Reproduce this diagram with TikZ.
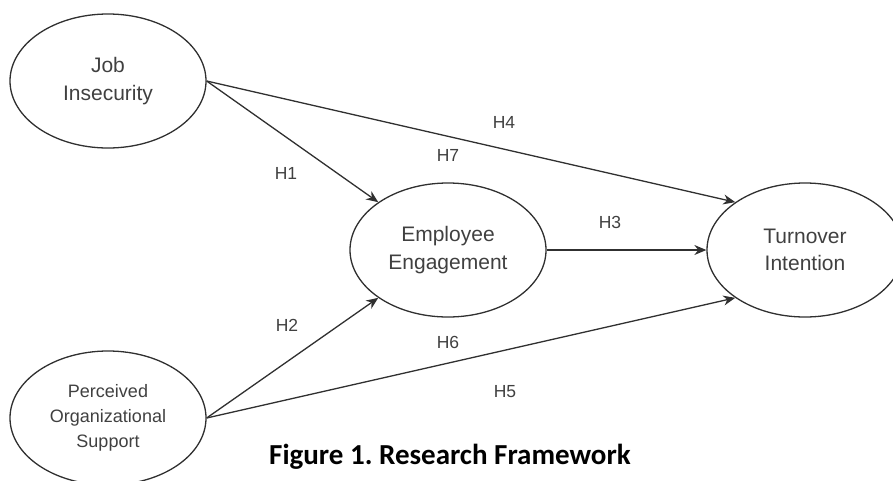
\documentclass[tikz,border=0pt]{standalone}
\usepackage{fontspec}
\setmainfont{Liberation Sans}
\newfontfamily\captionfont{Carlito}
\usepackage{xcolor}
\usetikzlibrary{shapes.geometric, arrows.meta}
\definecolor{linegray}{HTML}{303030}
\definecolor{textgray}{HTML}{404040}
\frenchspacing

\begin{document}
\begin{tikzpicture}[x=1pt, y=-1pt, >={Stealth[length=12pt,width=10pt]},
    latent/.style={draw=linegray, ellipse, line width=1.3pt, minimum width=196pt, minimum height=134pt,
      inner sep=0pt, align=center, text=textgray, font=\fontsize{21}{27.5}\selectfont},
    path/.style={->, draw=linegray, line width=1.3pt},
    hyp/.style={text=textgray, font=\fontsize{17.5}{20}\selectfont}]
    \useasboundingbox (0,0) rectangle (893,480);

    \node[latent] (JI) at (108,81) {Job\\Insecurity};
    \node[latent] (EE) at (448,250) {Employee\\Engagement};
    \node[latent] (TI) at (805,250) {Turnover\\Intention};
    \node[latent, font=\fontsize{18}{25}\selectfont] (POS) at (108,418) {Perceived\\Organizational\\Support};

    \draw[path] (JI.east) -- (EE.north west);
    \draw[path] (JI.east) -- (TI.north west);
    \draw[path] (EE.east) -- (TI.west);
    \draw[path] (POS.east) -- (EE.south west);
    \draw[path] (POS.east) -- (TI.south west);

    \node[hyp] (H1) at (286,173) {H1};
    \node[hyp] (H2) at (287,325) {H2};
    \node[hyp] (H3) at (610,222) {H3};
    \node[hyp] (H4) at (504,122) {H4};
    \node[hyp] (H5) at (505,392) {H5};
    \node[hyp] (H6) at (448,342) {H6};
    \node[hyp] (H7) at (448,155) {H7};

    \node[anchor=base, font=\captionfont\bfseries\fontsize{29}{34}\selectfont] (fig) at (450,464) {Figure 1. Research Framework};
\end{tikzpicture}
\end{document}
